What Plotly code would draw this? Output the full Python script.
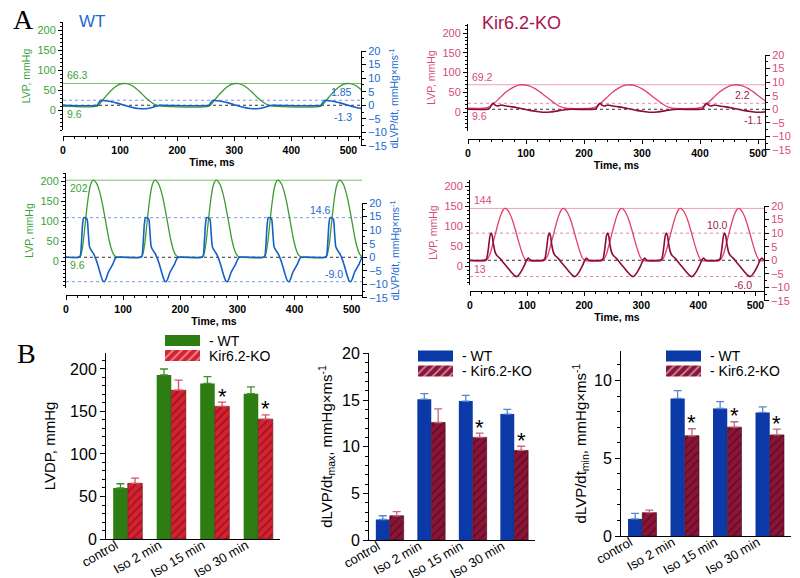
import plotly.graph_objects as go

W, H = 800, 578
FONT = "Liberation Sans, Arial, sans-serif"

# ---------------- panel A: recordings ----------------
# beat onsets in ms, then one beat shape: offset from onset (ms) and value
wt_ctrl_onsets = [60, 256, 452]
wt_ctrl_lvp_t = [0, 8, 16, 24, 32, 40, 46, 54, 64, 74, 84, 94, 104, 112]
wt_ctrl_lvp = [9.6, 22, 36, 48, 58, 64.5, 66.3, 65, 58, 46, 32, 20, 12, 9.6]
wt_ctrl_dlvp_t = [0, 3, 7, 12, 18, 25, 35, 48, 60, 72, 80, 88, 96, 104, 110]
wt_ctrl_dlvp = [0, 1.0, 1.85, 1.7, 1.6, 1.3, 0.8, 0.0, -0.7, -1.2, -1.3, -1.2, -0.8, -0.3, 0]

ko_ctrl_onsets = [37, 221, 405]
ko_ctrl_lvp_t = [-9, 0, 8, 18, 28, 40, 50, 57, 67, 80, 95, 110, 122, 132]
ko_ctrl_lvp = [9.6, 13, 22, 36, 50, 62, 68, 69.2, 67, 58, 42, 25, 14, 9.6]
ko_ctrl_dlvp_t = [-3, 0, 4, 7, 10, 14, 20, 27, 35, 45, 58, 72, 85, 95, 105, 118, 130, 140]
ko_ctrl_dlvp = [0, 0.3, 1.8, 2.2, 1.5, 1.2, 1.6, 1.3, 1.0, 0.7, 0.1, -0.5, -0.9, -1.1, -1.0, -0.6, -0.2, 0]

wt_iso_onsets = [24, 132, 239, 347, 455]
wt_iso_lvp_t = [0, 3, 6, 9, 12, 15, 18, 21, 24, 27, 31, 35, 39, 43, 47, 51, 55, 59, 63, 67]
wt_iso_lvp = [9.6, 20, 45, 85, 125, 160, 185, 198, 202, 199, 190, 172, 148, 118, 86, 55, 32, 17, 11, 9.6]
wt_iso_dlvp_t = [-2, 1, 3, 5, 7, 10, 13, 15, 17, 19, 22, 25, 28, 32, 36, 40, 43, 46, 50, 54, 58, 62, 65]
wt_iso_dlvp = [0, 0.5, 5, 12, 14.6, 14.6, 14, 9, 4, 3, 2, 1, -0.5, -3, -6, -8.5, -9, -8, -5.5, -4, -2.5, -0.5, 0]

ko_iso_onsets = [27, 129, 231, 334, 436]
ko_iso_lvp_t = [0, 4, 8, 12, 17, 22, 27, 31, 34, 38, 43, 48, 53, 58, 63, 68, 72, 76]
ko_iso_lvp = [13, 18, 30, 50, 78, 105, 128, 140, 144, 141, 130, 112, 88, 62, 38, 20, 14, 13]
ko_iso_dlvp_t = [-2, 2, 5, 8, 10, 12, 14, 17, 20, 25, 32, 40, 47, 52, 55, 58, 63, 68, 72, 75, 79]
ko_iso_dlvp = [0, 0.5, 4, 9, 10, 9, 6, 3, 1.8, 0.8, -1, -3, -4.8, -5.8, -6, -5.5, -4, -2, 0, 0.8, 0]

# ---------------- panel B: group means ----------------
categories = ["control", "Iso 2 min", "Iso 15 min", "Iso 30 min"]
lvdp_wt = [60, 193, 183, 171]
lvdp_wt_err = [5, 7, 8, 8]
lvdp_ko = [65.5, 175, 156, 141]
lvdp_ko_err = [6, 12, 5, 5]
lvdp_stars = [False, False, True, True]

dmax_wt = [2.2, 15.1, 14.9, 13.5]
dmax_wt_err = [0.4, 0.6, 0.6, 0.5]
dmax_ko = [2.6, 12.6, 11.0, 9.6]
dmax_ko_err = [0.45, 1.45, 0.45, 0.45]
dmax_stars = [False, False, True, True]

dmin_wt = [1.1, 8.85, 8.2, 7.95]
dmin_wt_err = [0.35, 0.5, 0.45, 0.35]
dmin_ko = [1.5, 6.45, 7.0, 6.5]
dmin_ko_err = [0.17, 0.45, 0.35, 0.38]
dmin_stars = [False, True, True, True]

GREEN, GREEN_T = "#3d9a32", "#3aa23a"
BLUE, BLUE_T = "#1560c8", "#1c6ad0"
PINK, PINK_T = "#e0416b", "#d64c76"
CRIMSON = "#8c0b3c"
BAR_GREEN, BAR_RED, HATCH_RED = "#2e7d12", "#d62230", "#5c0a14"
BAR_BLUE, BAR_CRIM, HATCH_CRIM = "#0b3aa8", "#8b1538", "#3e0414"


def px_x(a, b):
    return [a / W, b / W]


def px_y(top, bottom):
    return [1 - bottom / H, 1 - top / H]


def ref(kind, n):
    return kind if n == 1 else f"{kind}{n}"


def key(kind, n):
    return f"{kind}axis" if n == 1 else f"{kind}axis{n}"


def beats(onsets, dt, val, base, tmax):
    '''
    Lays the read beat shape at each onset on a flat baseline
    '''
    t, v = [0], [base]
    for o in onsets:
        t += [o + d for d in dt]
        v += list(val)
    if t[-1] < tmax:
        t.append(tmax)
        v.append(base)
    return t, v


fig = go.Figure()
layout = {}
shapes = []
notes = []


def trace_panel(n, p):
    '''
    LVP on the left axis, dLVP/dt on the right axis
    '''
    nl, nr = n, n + 1
    t1, v1 = beats(p["onsets"], p["lvp_t"], p["lvp"], p["base"], p["tmax"])
    t2, v2 = beats(p["onsets"], p["dlvp_t"], p["dlvp"], 0, p["tmax"])
    fig.add_trace(go.Scatter(x=t1, y=v1, xaxis=ref("x", nl), yaxis=ref("y", nl),
                             mode="lines", hoverinfo="skip", showlegend=False,
                             line=dict(color=p["c_lvp"], width=1.3, shape="spline", smoothing=0.6)))
    fig.add_trace(go.Scatter(x=t2, y=v2, xaxis=ref("x", nr), yaxis=ref("y", nr),
                             mode="lines", hoverinfo="skip", showlegend=False,
                             line=dict(color=p["c_dlvp"], width=1.6, shape="spline", smoothing=0.5)))

    xdom = px_x(*p["xdom"])
    layout[key("x", nl)] = dict(
        domain=xdom, range=[0, p["tmax"]], anchor="free", position=1 - p["xpos"] / H,
        automargin=False,
        showline=True, linecolor="black", showgrid=False, zeroline=False,
        ticks="outside", ticklen=4, tickcolor="black", tick0=0, dtick=100,
        minor=dict(dtick=20, ticklen=2, ticks="outside", tickcolor="black"),
        tickfont=dict(size=10.5, color="black", weight="bold"),
        title=dict(text="Time, ms", font=dict(size=10.5, color="black", weight="bold"), standoff=2))
    layout[key("x", nr)] = dict(domain=xdom, range=[0, p["tmax"]], visible=False,
                                automargin=False, anchor=ref("y", nr))
    layout[key("y", nl)] = dict(
        domain=px_y(*p["ldom"]), range=p["lrange"], anchor=ref("x", nl), automargin=False,
        showline=True, linecolor="black", showgrid=False, zeroline=False,
        tickvals=[0, 50, 100, 150, 200], ticks="outside", ticklen=4, tickcolor="black",
        minor=dict(dtick=10, ticklen=2, ticks="outside", tickcolor="black"),
        tickfont=dict(size=11, color=p["c_lt"]),
        title=dict(text="LVP, mmHg", font=dict(size=10.5, color=p["c_lt"]), standoff=4))
    layout[key("y", nr)] = dict(
        domain=px_y(*p["rdom"]), range=[-15.01, 20.01], anchor=ref("x", nr), side="right",
        automargin=False,
        showline=True, linecolor="black", showgrid=False, zeroline=False,
        tick0=0, dtick=5, ticks="outside", ticklen=4, tickcolor="black",
        minor=dict(dtick=2.5, ticklen=2, ticks="outside", tickcolor="black"),
        tickfont=dict(size=11, color=p["c_rt"]),
        title=dict(text="dLVP/dt, mmHg×ms<sup>-1</sup>", font=dict(size=10.5, color=p["c_rt"]),
                   standoff=4))

    for side, y, color, dash in p["lines"]:
        m = nl if side == "l" else nr
        shapes.append(dict(type="line", xref=f"{ref('x', m)} domain", x0=0, x1=1,
                           yref=ref("y", m), y0=y, y1=y, layer="below",
                           line=dict(color=color, width=1, dash=dash)))
    for side, x, y, text, xa, ya, color in p["labels"]:
        m = nl if side == "l" else nr
        notes.append(dict(xref=ref("x", m), yref=ref("y", m), x=x, y=y, text=text,
                          xanchor=xa, yanchor=ya, showarrow=False,
                          font=dict(size=10.5, color=color)))


trace_panel(1, dict(
    onsets=wt_ctrl_onsets, lvp_t=wt_ctrl_lvp_t, lvp=wt_ctrl_lvp, base=9.6,
    dlvp_t=wt_ctrl_dlvp_t, dlvp=wt_ctrl_dlvp, tmax=522,
    xdom=(55, 353), xpos=128, ldom=(14, 122), lrange=[-50, 220], rdom=(43, 138),
    c_lvp=GREEN, c_dlvp=BLUE, c_lt=GREEN_T, c_rt=BLUE_T,
    lines=[("l", 66.3, "#7cc06c", "solid"), ("r", 1.85, "#6a9ae0", "dot"), ("r", 0, "#333333", "dot")],
    labels=[("l", 4, 66.3, "66.3", "left", "bottom", GREEN_T),
            ("l", 4, 9.6, "9.6", "left", "top", GREEN_T),
            ("r", 510, 1.85, "1.85", "right", "bottom", BLUE_T),
            ("r", 510, -1.3, "-1.3", "right", "top", BLUE_T)]))

trace_panel(3, dict(
    onsets=ko_ctrl_onsets, lvp_t=ko_ctrl_lvp_t, lvp=ko_ctrl_lvp, base=9.6,
    dlvp_t=ko_ctrl_dlvp_t, dlvp=ko_ctrl_dlvp, tmax=512,
    xdom=(460, 757), xpos=131, ldom=(16, 123), lrange=[-48, 223], rdom=(47, 142),
    c_lvp=PINK, c_dlvp=CRIMSON, c_lt=PINK_T, c_rt=PINK_T,
    lines=[("l", 69.2, "#eaa0b4", "solid"), ("r", 2.2, "#e08aa0", "dot"), ("r", 0, "#333333", "dot")],
    labels=[("l", 4, 69.2, "69.2", "left", "bottom", PINK_T),
            ("l", 4, 9.6, "9.6", "left", "top", PINK_T),
            ("r", 490, 2.2, "2.2", "right", "bottom", "#a0204e"),
            ("r", 510, -1.1, "-1.1", "right", "top", "#a0204e")]))

trace_panel(5, dict(
    onsets=wt_iso_onsets, lvp_t=wt_iso_lvp_t, lvp=wt_iso_lvp, base=9.6,
    dlvp_t=wt_iso_dlvp_t, dlvp=wt_iso_dlvp, tmax=518,
    xdom=(58, 354), xpos=287, ldom=(165, 280), lrange=[-67.5, 220], rdom=(195, 290),
    c_lvp=GREEN, c_dlvp=BLUE, c_lt=GREEN_T, c_rt=BLUE_T,
    lines=[("l", 202, "#7cc06c", "solid"), ("r", 14.6, "#6a9ae0", "dot"),
           ("r", 0, "#333333", "dot"), ("r", -9, "#6a9ae0", "dot")],
    labels=[("l", 4, 202, "202", "left", "top", GREEN_T),
            ("l", 4, 9.6, "9.6", "left", "top", GREEN_T),
            ("r", 468, 14.6, "14.6", "right", "bottom", BLUE_T),
            ("r", 488, -9, "-9.0", "right", "bottom", BLUE_T)]))

trace_panel(7, dict(
    onsets=ko_iso_onsets, lvp_t=ko_iso_lvp_t, lvp=ko_iso_lvp, base=13,
    dlvp_t=ko_iso_dlvp_t, dlvp=ko_iso_dlvp, tmax=515,
    xdom=(462, 756), xpos=283, ldom=(172, 277), lrange=[-47.5, 215], rdom=(198, 293),
    c_lvp=PINK, c_dlvp=CRIMSON, c_lt=PINK_T, c_rt=PINK_T,
    lines=[("l", 144, "#eaa0b4", "solid"), ("r", 10, "#e08aa0", "dot"),
           ("r", 0, "#333333", "dot"), ("r", -6, "#e08aa0", "dot")],
    labels=[("l", 4, 144, "144", "left", "bottom", PINK_T),
            ("l", 4, 13, "13", "left", "top", PINK_T),
            ("r", 456, 10, "10.0", "right", "bottom", "#a0204e"),
            ("r", 497, -6, "-6.0", "right", "top", "#a0204e")]))


def bar_panel(n, p):
    '''
    Grouped bars WT vs Kir6.2-KO with upper error bars and a drawn legend
    '''
    xa, ya = ref("x", n), ref("y", n)
    fig.add_trace(go.Bar(x=categories, y=p["wt"], xaxis=xa, yaxis=ya, showlegend=False,
                         marker=dict(color=p["c_wt"], line=dict(width=0)),
                         error_y=dict(type="data", array=p["wt_err"], arrayminus=[0, 0, 0, 0],
                                      symmetric=False, color=p["c_wt_err"], thickness=1.3, width=4)))
    fig.add_trace(go.Bar(x=categories, y=p["ko"], xaxis=xa, yaxis=ya, showlegend=False,
                         marker=dict(color=p["c_ko"], line=dict(color=p["c_hatch"], width=0.6),
                                     pattern=dict(shape="/", fgcolor=p["c_hatch"], size=6,
                                                  solidity=0.3, fillmode="overlay")),
                         error_y=dict(type="data", array=p["ko_err"], arrayminus=[0, 0, 0, 0],
                                      symmetric=False, color=p["c_ko_err"], thickness=1.3, width=4)))
    layout[key("x", n)] = dict(
        domain=px_x(*p["xdom"]), anchor=ya, range=[-0.5, 3.5], showline=True, automargin=False,
        linecolor="black", ticks="", tickangle=-30, showgrid=False,
        ticklabelstandoff=-7, ticklabelshift=-12,
        tickfont=dict(size=13, color="black"))
    layout[key("y", n)] = dict(
        domain=px_y(*p["ydom"]), anchor=xa, range=p["yrange"], showline=True, automargin=False,
        linecolor="black", showgrid=False, zeroline=False, tick0=0, dtick=p["dtick"],
        ticks="outside", ticklen=5, tickcolor="black",
        minor=dict(dtick=p["minor"], ticklen=3, ticks="outside", tickcolor="black"),
        tickfont=dict(size=16, color="black"),
        title=dict(text=p["title"], font=dict(size=15, color="black"), standoff=p["standoff"]))
    for i, s in enumerate(p["stars"]):
        if s:
            notes.append(dict(xref=xa, yref=ya, x=i + 0.1675, y=p["ko"][i] + p["ko_err"][i],
                              text="*", showarrow=False, yanchor="middle", yshift=6,
                              font=dict(size=22, color="black")))

    # legend swatches as a small horizontal bar pair on its own hidden axes
    m = n + 3
    lx, ly = p["legend"]
    fig.add_trace(go.Bar(x=[1, 1], y=[0, 1], orientation="h", width=0.72,
                         xaxis=ref("x", m), yaxis=ref("y", m), showlegend=False,
                         hoverinfo="skip",
                         marker=dict(color=[p["c_wt"], p["c_ko"]], line=dict(width=0),
                                     pattern=dict(shape=["", "/"], fgcolor=p["c_hatch"], size=6,
                                                  solidity=0.3, fillmode="overlay"))))
    layout[key("x", m)] = dict(domain=px_x(lx, lx + 35), range=[0, 1], visible=False,
                               automargin=False, anchor=ref("y", m))
    layout[key("y", m)] = dict(domain=px_y(ly - 7.5, ly + 22.5), range=[1.5, -0.5], visible=False,
                               automargin=False, anchor=ref("x", m))
    for j, txt in enumerate(p["legend_text"]):
        notes.append(dict(xref="paper", yref="paper", x=(lx + 42) / W, y=1 - (ly + 15 * j) / H,
                          text=txt, xanchor="left", yanchor="middle", showarrow=False,
                          font=dict(size=14, color="black")))


bar_panel(9, dict(
    wt=lvdp_wt, wt_err=lvdp_wt_err, ko=lvdp_ko, ko_err=lvdp_ko_err, stars=lvdp_stars,
    c_wt=BAR_GREEN, c_wt_err="#3f8f2a", c_ko=BAR_RED, c_ko_err="#d85060", c_hatch=HATCH_RED,
    xdom=(98, 272), ydom=(345, 531), yrange=[0, 218.8], dtick=50, minor=10,
    title="LVDP, mmHg", standoff=10,
    legend=(157, 332.5), legend_text=["- WT", "Kir6.2-KO"]))

bar_panel(10, dict(
    wt=dmax_wt, wt_err=dmax_wt_err, ko=dmax_ko, ko_err=dmax_ko_err, stars=dmax_stars,
    c_wt=BAR_BLUE, c_wt_err="#5a86d0", c_ko=BAR_CRIM, c_ko_err="#c06a80", c_hatch=HATCH_CRIM,
    xdom=(361, 527), ydom=(345, 532), yrange=[0, 20.05], dtick=5, minor=1,
    title="dLVP/dt<sub>max</sub>, mmHg×ms<sup>-1</sup>", standoff=5,
    legend=(410, 348), legend_text=["- WT", "- Kir6.2-KO"]))

bar_panel(11, dict(
    wt=dmin_wt, wt_err=dmin_wt_err, ko=dmin_ko, ko_err=dmin_ko_err, stars=dmin_stars,
    c_wt=BAR_BLUE, c_wt_err="#5a86d0", c_ko=BAR_CRIM, c_ko_err="#c06a80", c_hatch=HATCH_CRIM,
    xdom=(613, 783), ydom=(343, 528), yrange=[0, 11.9], dtick=5, minor=1,
    title="dLVP/dt<sub>min</sub>, mmHg×ms<sup>-1</sup>", standoff=3,
    legend=(658, 348), legend_text=["- WT", "- Kir6.2-KO"]))

# panel letters and group titles
notes += [
    dict(xref="paper", yref="paper", x=3 / W, y=1 - 12 / H, text="A", xanchor="left",
         yanchor="middle", showarrow=False, font=dict(family="Liberation Serif", size=28, color="black")),
    dict(xref="paper", yref="paper", x=7 / W, y=1 - 345 / H, text="B", xanchor="left",
         yanchor="middle", showarrow=False, font=dict(family="Liberation Serif", size=28, color="black")),
    dict(xref="paper", yref="paper", x=69 / W, y=1 - 13 / H, text="WT", xanchor="left",
         yanchor="middle", showarrow=False, font=dict(size=17, color=BLUE_T)),
    dict(xref="paper", yref="paper", x=472 / W, y=1 - 15 / H, text="Kir6.2-KO", xanchor="left",
         yanchor="middle", showarrow=False, font=dict(size=18, color="#a8124e")),
]

fig.update_layout(
    width=W, height=H, margin=dict(l=0, r=0, t=0, b=0, autoexpand=False),
    paper_bgcolor="white", plot_bgcolor="rgba(0,0,0,0)",
    font=dict(family=FONT, color="black"),
    barmode="group", bargap=0.33, bargroupgap=0,
    shapes=shapes, annotations=notes, **layout)

fig.write_html("out.html")
